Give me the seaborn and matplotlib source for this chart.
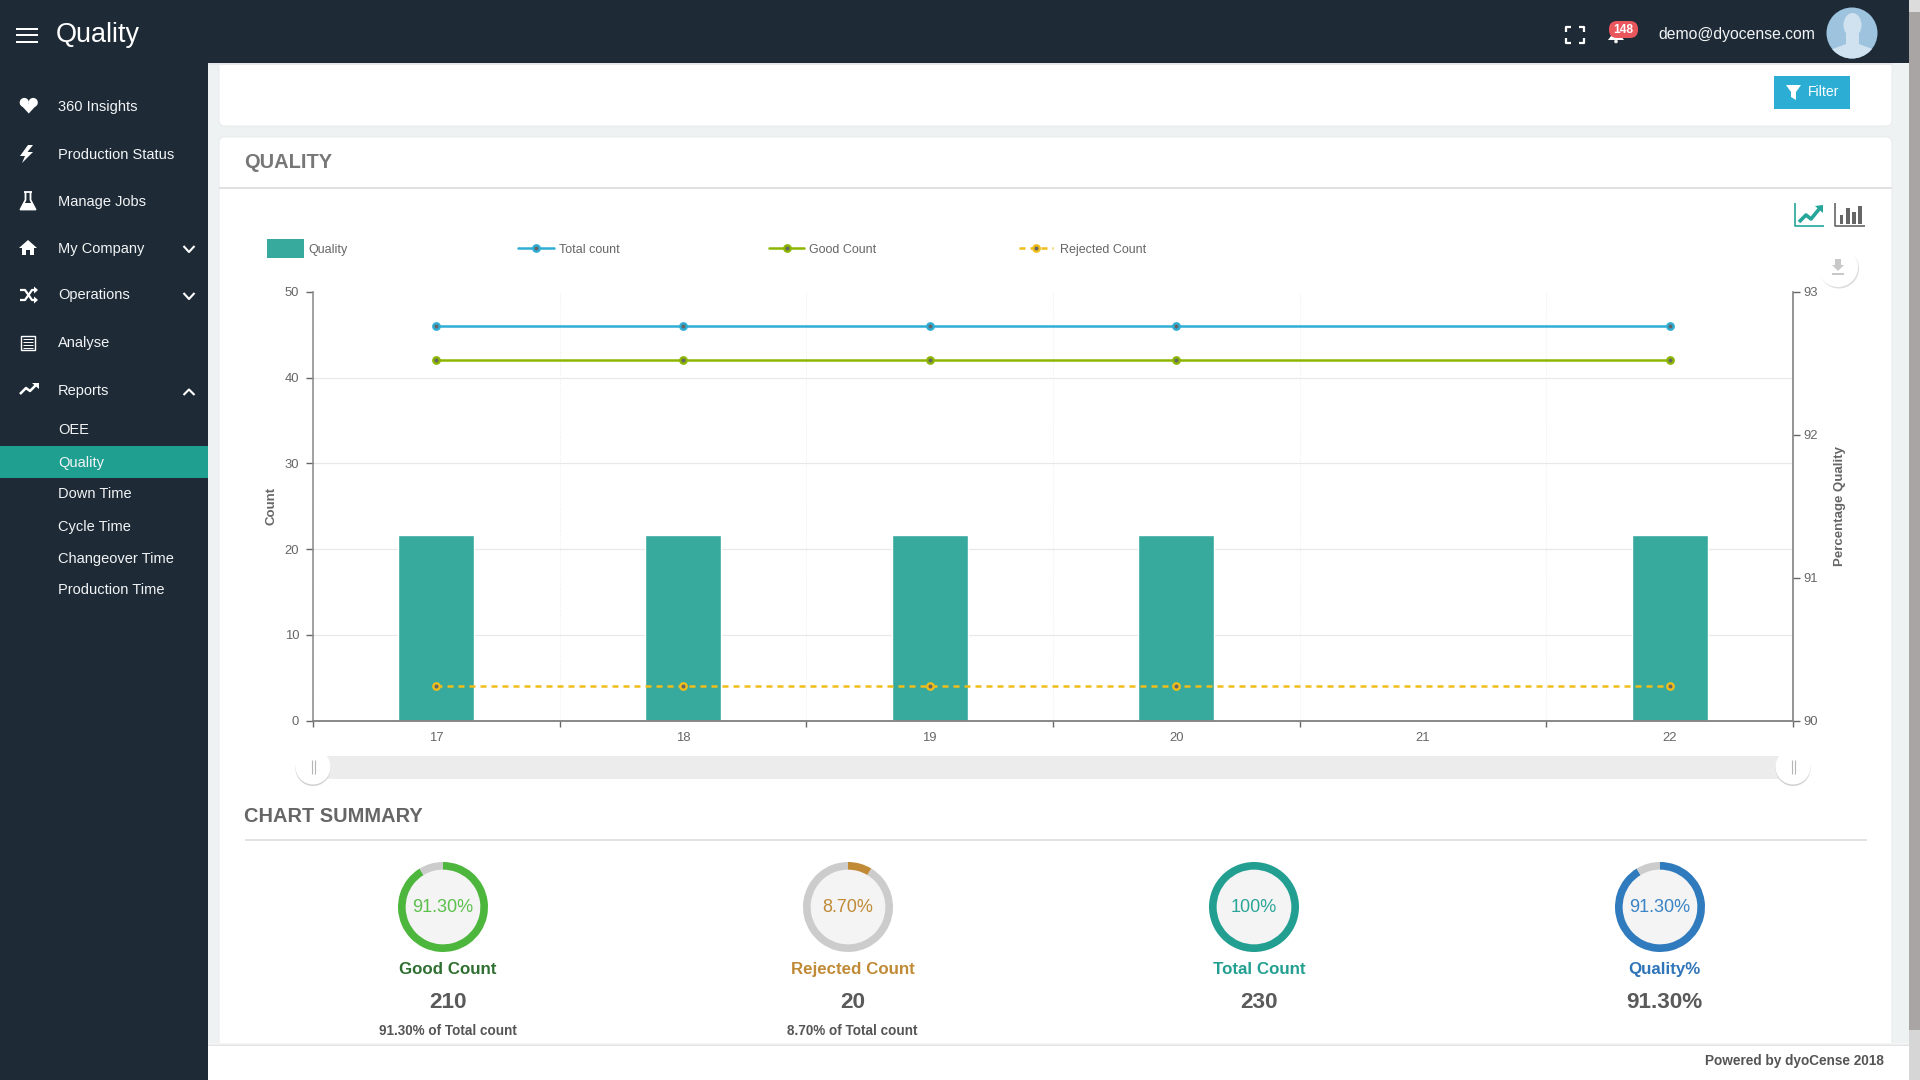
import matplotlib
matplotlib.use('Agg')
import matplotlib.pyplot as plt
import seaborn as sns
from matplotlib.patches import Circle, Ellipse, FancyBboxPatch, Polygon, Rectangle

# chart values
days = [17, 18, 19, 20, 22]
all_days = [17, 18, 19, 20, 21, 22]
quality_pct = [91.3, 91.3, 91.3, 91.3, 91.3]
total_count = [46, 46, 46, 46, 46]
good_count = [42, 42, 42, 42, 42]
rejected_count = [4, 4, 4, 4, 4]
count_ticks = [0, 10, 20, 30, 40, 50]
pct_ticks = [90, 91, 92, 93]

# summary values
summary_names = ['Good Count', 'Rejected Count', 'Total Count', 'Quality%']
summary_pct = [91.30, 8.70, 100, 91.30]
summary_pct_labels = ['91.30%', '8.70%', '100%', '91.30%']
summary_values = ['210', '20', '230', '91.30%']
summary_notes = ['91.30% of Total count', '8.70% of Total count', '', '']

menu_items = ['360 Insights', 'Production Status', 'Manage Jobs', 'My Company', 'Operations', 'Analyse', 'Reports']
menu_y = [105, 153.5, 200.5, 247, 294, 342, 390]
sub_items = ['OEE', 'Quality', 'Down Time', 'Cycle Time', 'Changeover Time', 'Production Time']
sub_y = [429, 462, 493, 526, 558, 589]

TEAL = '#37a99d'
BLUE = '#2fadd4'
GREEN = '#8db600'
YELLOW = '#f0bd1a'
DARK = '#1e2b37'
W, H = 1920, 1080

sns.set_theme(style='white')
plt.rcParams['font.family'] = ['Liberation Sans', 'DejaVu Sans']


def px(size):
    return size * 0.72


fig = plt.figure(figsize=(19.2, 10.8), dpi=100, facecolor='#eef2f3')

# page drawn in pixel coordinates
bg = fig.add_axes([0, 0, 1, 1], zorder=0)
bg.set_xlim(0, W)
bg.set_ylim(H, 0)
bg.axis('off')


def rect(x0, y0, x1, y1, color, z=1):
    bg.add_patch(Rectangle((x0, y0), x1 - x0, y1 - y0, color=color, lw=0, zorder=z))


def poly(points, color, z=5):
    bg.add_patch(Polygon(points, closed=True, color=color, lw=0, zorder=z))


def stroke(xs, ys, color='white', lw=1.6, z=5):
    bg.plot(xs, ys, color=color, lw=lw, zorder=z, solid_capstyle='butt')


def txt(x, y, s, size, color='#666666', weight='normal', ha='left', z=6):
    # 1.5 px lower than matplotlib's centre line, closer to browser text
    bg.text(x, y + 1.5, s, fontsize=px(size), color=color, fontweight=weight, ha=ha, va='center', zorder=z)


def card(x0, y0, x1, y1):
    bg.add_patch(FancyBboxPatch((x0 + 6, y0 + 6), x1 - x0 - 12, y1 - y0 - 12, boxstyle='round,pad=6,rounding_size=6',
                                fc='white', ec='#e6e9ea', lw=0.6, zorder=1))


# cards
card(219, 50, 1892, 126)
card(219, 137, 1892, 1070)
rect(219, 187, 1892, 189, '#e0e0e0', 2)

# right scrollbar
rect(1909, 0, W, H, '#a9a5a5', 2)
rect(1909, 0, W, 12, '#dcdcdc', 3)
rect(1909, 1030, W, H, '#d6d6d6', 3)

# header and side menu
rect(0, 0, 208, H, DARK, 3)
rect(0, 0, 1909, 63, DARK, 4)
rect(208, 63, 1892, 65, '#e6e8e9', 2)
rect(0, 446, 208, 478, '#1f9f90', 4)

for y in [29, 35, 42]:
    rect(15.5, y - 1.2, 38, y + 1.2, 'white', 5)
txt(56, 33.5, 'Quality', 27, 'white')

for name, y in zip(menu_items, menu_y):
    txt(58, y, name, 14.6, '#f2f4f5')
for name, y in zip(sub_items, sub_y):
    txt(58, y, name, 14.6, '#f2f4f5')

# menu icons
bg.add_patch(Circle((24.3, 102.5), 4.6, color='white', lw=0, zorder=5))
bg.add_patch(Circle((33.2, 102.5), 4.6, color='white', lw=0, zorder=5))
poly([(20, 104), (37.5, 104), (28.8, 113.5)], 'white')
poly([(28, 145), (20, 156), (25, 156), (22, 163), (33, 152), (27.5, 152), (33, 145)], 'white')
stroke([25.5, 25.5, 20.5, 35.5, 30.5, 30.5], [192, 200, 209.5, 209.5, 200, 192], lw=1.3)
stroke([24, 32], [192, 192], lw=1.3)
poly([(23.5, 203), (32.5, 203), (36, 210), (20, 210)], 'white')
poly([(28, 240), (37, 248), (34, 248), (34, 255), (30, 255), (30, 250), (26, 250), (26, 255), (22, 255), (22, 248), (19, 248)], 'white')
stroke([20, 25, 32, 37], [290, 290, 300, 300], lw=1.6)
stroke([20, 25, 32, 37], [300, 300, 290, 290], lw=1.6)
poly([(34, 286.5), (38, 290), (34, 293.5)], 'white')
poly([(34, 296.5), (38, 300), (34, 303.5)], 'white')
bg.add_patch(Rectangle((21, 336), 14, 14, fc='none', ec='white', lw=1, zorder=5))
for y in [339, 342, 345, 348]:
    stroke([23, 33], [y, y], lw=0.7)
stroke([20, 26, 30, 37], [394, 388, 391, 384], lw=1.8)
poly([(32, 383), (39, 383), (39, 389)], 'white')
for y in [246, 293]:
    stroke([183.5, 189, 194.5], [y, y + 6, y], lw=1.5)
stroke([183.5, 189, 194.5], [395, 389.5, 395], lw=1.5)

# header right side
for xs, ys in [([1566, 1566, 1571], [32, 27, 27]), ([1579, 1584, 1584], [27, 27, 32]),
               ([1566, 1566, 1571], [38, 43, 43]), ([1579, 1584, 1584], [43, 43, 38])]:
    stroke(xs, ys, lw=1.6)
poly([(1608, 40), (1611, 36), (1611, 28), (1621, 28), (1621, 36), (1624, 40)], 'white')
bg.add_patch(Circle((1616, 41.5), 1.8, color='white', lw=0, zorder=5))
bg.add_patch(FancyBboxPatch((1613, 25), 21, 9, boxstyle='round,pad=4,rounding_size=8', fc='#e9565b', lw=0, zorder=6))
txt(1623.5, 28.5, '148', 12, 'white', 'bold', 'center', z=7)
txt(1658, 33, 'demo@dyocense.com', 15.8, '#f2f4f5')
avatar = Circle((1852, 33), 25.5, color='#9dc3de', lw=0, zorder=5)
bg.add_patch(avatar)
bg.add_patch(Ellipse((1852.5, 25), 18, 24, color='#d0e1ef', lw=0, zorder=6))
body = Polygon([(1822, 62), (1830, 50), (1846, 44), (1846, 34), (1859, 34), (1859, 44), (1875, 50), (1883, 62)],
               color='#d0e1ef', lw=0, zorder=6)
bg.add_patch(body)
body.set_clip_path(avatar)

# filter button
rect(1774, 76, 1850, 109, '#2badd4', 2)
poly([(1786, 85), (1801, 85), (1796, 92), (1796, 100), (1791, 97), (1791, 92)], 'white')
txt(1808, 90.5, 'Filter', 14, 'white')

# chart type icons and download button
stroke([1795, 1795, 1824], [203, 226, 226], '#26a69a', 1.2)
stroke([1799, 1806, 1811, 1820], [222, 215, 219, 208], '#26a69a', 2.6)
poly([(1815, 206), (1823, 205), (1823, 213)], '#26a69a')
stroke([1835, 1835, 1865], [203, 226, 226], '#666666', 1.2)
for x, top in zip([1841.5, 1848, 1854, 1860], [215, 208, 212, 206]):
    rect(x - 1.9, top, x + 1.9, 224, '#666666', 5)
bg.add_patch(Circle((1839, 268.5), 20, color='#dddddd', lw=0, zorder=2))
bg.add_patch(Circle((1838, 267), 20, color='white', lw=0, zorder=3))
poly([(1835, 259), (1841, 259), (1841, 265), (1844, 265), (1838, 271), (1832, 265), (1835, 265)], '#c8c8c8')
rect(1832, 273, 1844, 275, '#c8c8c8', 5)

# legend
rect(266.5, 239, 304, 258, TEAL, 3)
txt(308.5, 248.5, 'Quality', 12.5)
legend_rows = [(518, 554, BLUE, '-', 'Total count', 559), (769, 804, GREEN, '-', 'Good Count', 809),
               (1019, 1053, YELLOW, (0, (2.4, 2)), 'Rejected Count', 1060)]
for x0, x1, color, ls, label, tx in legend_rows:
    bg.plot([x0, x1], [248, 248], color=color, lw=1.8, ls=ls, zorder=5)
    bg.plot([(x0 + x1) / 2], [248], marker='o', ms=4.6, mfc='#666666', mec=color, mew=1.7, zorder=6)
    txt(tx, 248.5, label, 12.5)

# main chart: bars on percent axis, lines on count axis
ax_q = fig.add_axes([313 / W, 1 - 720.8 / H, 1480 / W, 429 / H], zorder=1)
ax_q.patch.set_visible(False)
sns.barplot(x=days, y=quality_pct, native_scale=True, width=0.308, color=TEAL, saturation=1, ax=ax_q, zorder=2)
ax_c = ax_q.twinx()
ax_c.set_zorder(2)
ax_c.patch.set_visible(False)

sns.lineplot(x=days, y=total_count, color=BLUE, lw=1.8, marker='o', ms=4.6, mfc='#666666', mec=BLUE, mew=1.7,
             legend=False, errorbar=None, ax=ax_c)
sns.lineplot(x=days, y=good_count, color=GREEN, lw=1.8, marker='o', ms=4.6, mfc='#666666', mec=GREEN, mew=1.7,
             legend=False, errorbar=None, ax=ax_c)
sns.lineplot(x=days, y=rejected_count, color=YELLOW, lw=1.8, linestyle=(0, (2.4, 2)), marker='o', ms=4.6,
             mfc='#666666', mec=YELLOW, mew=1.7, legend=False, errorbar=None, ax=ax_c)

ax_q.set_xlim(all_days[0] - 0.5, all_days[-1] + 0.5)
ax_q.set_ylim(pct_ticks[0], pct_ticks[-1])
ax_c.set_ylim(count_ticks[0], count_ticks[-1])
ax_q.set_xticks(all_days)
ax_q.set_xticklabels([str(d) for d in all_days])
ax_q.set_xticks([d - 0.5 for d in all_days] + [all_days[-1] + 0.5], minor=True)
ax_q.set_yticks(pct_ticks)
ax_q.set_yticks([pct_ticks[0] + c * 3 / 50 for c in count_ticks], minor=True)
ax_c.set_yticks(count_ticks)

ax_q.yaxis.tick_right()
ax_c.yaxis.tick_left()
ax_q.set_axisbelow(True)
ax_q.grid(False)
ax_c.grid(False)
ax_q.grid(which='minor', axis='y', color='#e8e8e8', lw=0.9)
ax_q.grid(which='minor', axis='x', color='#ececec', lw=0.7, ls=':')

ax_q.tick_params(axis='x', which='major', length=0, pad=8, labelsize=px(13), labelcolor='#666666')
ax_q.tick_params(axis='x', which='minor', length=4.3, width=1, color='#666666', bottom=True)
ax_q.tick_params(axis='y', which='major', length=5, width=1, pad=2.5, color='#666666', labelsize=px(13), labelcolor='#666666')
ax_q.tick_params(axis='y', which='minor', length=0)
ax_c.tick_params(axis='y', length=5, width=1, pad=5, color='#666666', labelsize=px(13), labelcolor='#666666')

for a in (ax_q, ax_c):
    for side in ['left', 'right', 'top', 'bottom']:
        a.spines[side].set_visible(False)
ax_q.spines['bottom'].set_visible(True)
ax_q.spines['right'].set_visible(True)
ax_c.spines['left'].set_visible(True)
ax_q.spines['bottom'].set_color('#888888')
ax_q.spines['bottom'].set_linewidth(1.4)
ax_q.spines['right'].set_color('#777777')
ax_q.spines['right'].set_linewidth(1.1)
ax_c.spines['left'].set_color('#888888')
ax_c.spines['left'].set_linewidth(1.1)

ax_c.set_ylabel('Count', fontsize=px(13.3), fontweight='bold', color='#666666')
ax_c.yaxis.set_label_coords(-0.032, 0.5)
ax_q.set_ylabel('Percentage Quality', fontsize=px(13.3), fontweight='bold', color='#666666')
ax_q.yaxis.set_label_position('right')
ax_q.yaxis.set_label_coords(1.028, 0.5)
ax_q.set_xlabel('')

# slider under the chart
rect(313, 756, 1793, 779, '#ececec', 2)
for x in [313, 1793]:
    bg.add_patch(Circle((x, 768.5), 17.5, color='#cfcfcf', lw=0, zorder=3))
    bg.add_patch(Circle((x, 767), 17.5, color='white', lw=0, zorder=4))
    stroke([x - 1.5, x - 1.5], [760, 774], '#b5b5b5', 0.8)
    stroke([x + 1.5, x + 1.5], [760, 774], '#b5b5b5', 0.8)

# chart summary
txt(244.5, 815.5, 'CHART SUMMARY', 20, '#666666', 'bold')
rect(244.5, 839, 1867, 840.5, '#e2e2e2', 2)
txt(244, 161, 'QUALITY', 20, '#777777', 'bold')

ring_x = [443, 848, 1254, 1660]
label_x = [447.5, 852.5, 1259, 1664]
ring_colors = ['#4db63c', '#c08a36', '#229f90', '#2f7bbd']
pct_colors = ['#5cc04c', '#c08a36', '#2aa597', '#3a83c4']
name_colors = ['#2f6f31', '#c08a36', '#229f90', '#2f75b8']

for i, pct in enumerate(summary_pct):
    cx = ring_x[i]
    ring = fig.add_axes([(cx - 45) / W, 1 - (907 + 45) / H, 90 / W, 90 / H], zorder=3)
    ring.pie([pct, 100 - pct], colors=[ring_colors[i], '#cccccc'], startangle=90, counterclock=False,
             radius=1, wedgeprops={'width': 0.17, 'linewidth': 0})
    ring.set_xlim(-1, 1)
    ring.set_ylim(-1, 1)
    ring.add_patch(Circle((0, 0), 0.84, color='#f4f4f4', lw=0, zorder=0))
    ring.text(0, 0, summary_pct_labels[i], fontsize=px(18), color=pct_colors[i], ha='center', va='center')
    txt(label_x[i], 968, summary_names[i], 16.9, name_colors[i], 'bold', 'center')
    txt(label_x[i], 1000.5, summary_values[i], 22.5, '#5a5a5a', 'bold', 'center')
    if summary_notes[i]:
        txt(label_x[i], 1029.5, summary_notes[i], 13.5, '#555555', 'bold', 'center')

# footer
rect(208, 1046, 1909, H, 'white', 4)
for k, c in enumerate(['#f6f6f6', '#eeeeee', '#e4e4e4']):
    rect(208, 1043 + k, 1909, 1044 + k, c, 4)
txt(1884, 1060, 'Powered by dyoCense 2018', 13.6, '#555555', 'bold', 'right')

fig.savefig('out.png', dpi=100, facecolor=fig.get_facecolor())
